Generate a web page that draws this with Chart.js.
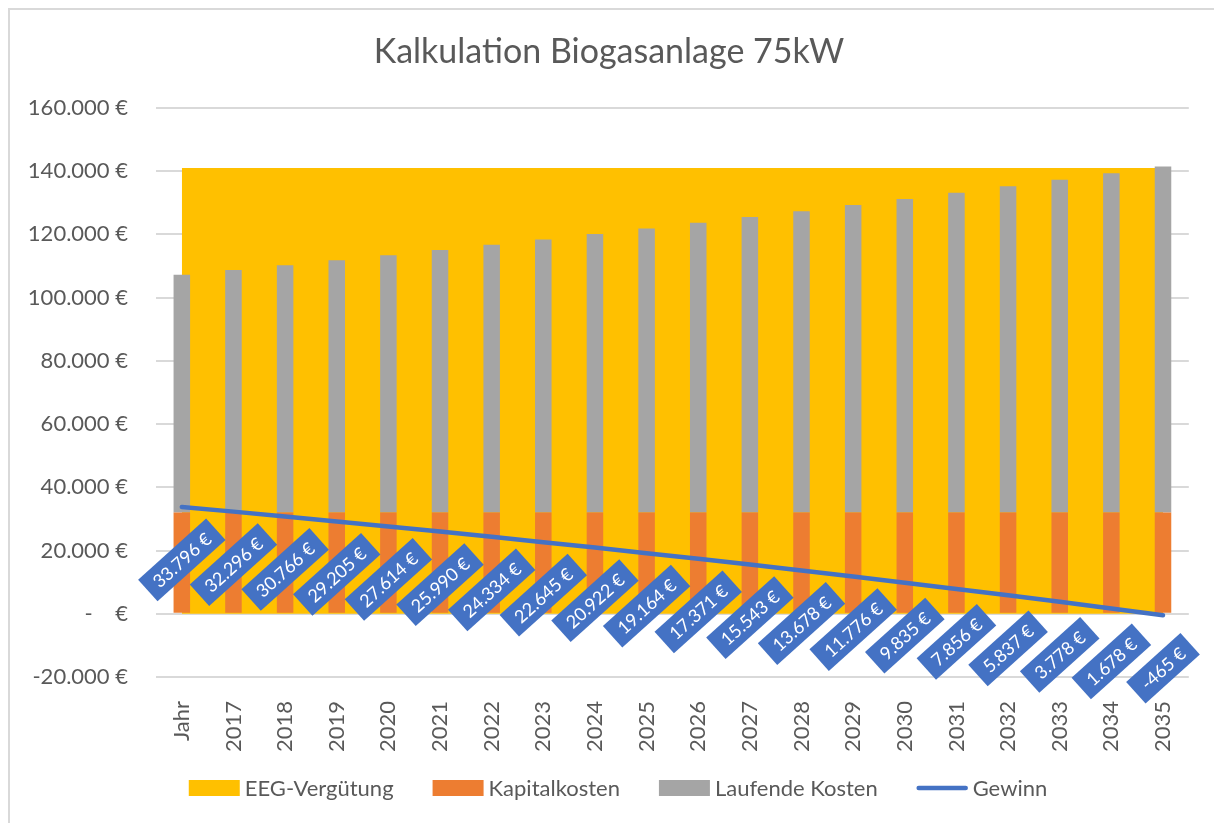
<!DOCTYPE html>
<html lang="de">
<head>
<meta charset="utf-8">
<title>Kalkulation Biogasanlage 75kW</title>
<script src="https://cdn.jsdelivr.net/npm/chart.js@4.4.1/dist/chart.umd.min.js"></script>
<style>
  html, body { margin: 0; padding: 0; background: #fff; }
  #chart { display: block; }
</style>
</head>
<body>
<canvas id="chart" width="1214" height="823"></canvas>
<script>
const years = ['Jahr', '2017', '2018', '2019', '2020', '2021', '2022', '2023', '2024', '2025',
  '2026', '2027', '2028', '2029', '2030', '2031', '2032', '2033', '2034', '2035'];

const eegVerguetung = [141000, 141000, 141000, 141000, 141000, 141000, 141000, 141000, 141000, 141000,
  141000, 141000, 141000, 141000, 141000, 141000, 141000, 141000, 141000, 141000];

const kapitalkosten = [32000, 32000, 32000, 32000, 32000, 32000, 32000, 32000, 32000, 32000,
  32000, 32000, 32000, 32000, 32000, 32000, 32000, 32000, 32000, 32000];

const laufendeKosten = [75204, 76704, 78234, 79795, 81386, 83010, 84666, 86355, 88078, 89836,
  91629, 93457, 95322, 97224, 99165, 101144, 103163, 105222, 107322, 109465];

const gewinn = [33796, 32296, 30766, 29205, 27614, 25990, 24334, 22645, 20922, 19164,
  17371, 15543, 13678, 11776, 9835, 7856, 5837, 3778, 1678, -465];

const yMin = -20000;
const yMax = 160000;
const yStep = 20000;

const FONT = 'Lato, "Open Sans", sans-serif';
const TEXT = '#595959';
const GRID = '#d9d9d9';

function euro(v) {
  if (v === 0) return '-    €';
  const s = String(Math.round(v)).replace(/\B(?=(\d{3})+(?!\d))/g, '.');
  return s + ' €';
}

// light frame along the top and left edge
const framePlugin = {
  id: 'frame',
  beforeDraw(chart) {
    const ctx = chart.ctx;
    ctx.save();
    ctx.fillStyle = '#fff';
    ctx.fillRect(0, 0, chart.width, chart.height);
    ctx.strokeStyle = GRID;
    ctx.lineWidth = 2;
    ctx.beginPath();
    ctx.moveTo(9, chart.height);
    ctx.lineTo(9, 9);
    ctx.lineTo(chart.width, 9);
    ctx.stroke();
    ctx.restore();
  }
};

// rotated value boxes under the Gewinn line
const gewinnLabels = {
  id: 'gewinnLabels',
  afterDatasetsDraw(chart) {
    const idx = chart.data.datasets.findIndex(d => d.label === 'Gewinn');
    const meta = chart.getDatasetMeta(idx);
    const ctx = chart.ctx;
    ctx.save();
    ctx.font = '18px ' + FONT;
    ctx.textAlign = 'center';
    ctx.textBaseline = 'middle';
    meta.data.forEach((pt, i) => {
      const text = euro(chart.data.datasets[idx].data[i]);
      const w = ctx.measureText(text).width + 20;
      const h = 29;
      ctx.save();
      ctx.translate(pt.x, pt.y + 53);
      ctx.rotate(-42 * Math.PI / 180);
      ctx.fillStyle = '#4472C4';
      ctx.fillRect(-w / 2, -h / 2, w, h);
      ctx.fillStyle = '#fff';
      ctx.fillText(text, 0, 1);
      ctx.restore();
    });
    ctx.restore();
  }
};

// legend row under the axis: swatch boxes for areas/bars, a short stroke for the line
const bottomLegend = {
  id: 'bottomLegend',
  afterDraw(chart) {
    const ctx = chart.ctx;
    const sw = 51, sh = 16, gapText = 5, gapItem = 39;
    const cx = 618, cy = 788;
    ctx.save();
    ctx.font = '22px ' + FONT;
    ctx.textBaseline = 'middle';
    ctx.textAlign = 'left';
    const items = chart.data.datasets.map(ds => ({ ds, tw: ctx.measureText(ds.label).width }));
    const total = items.reduce((s, it) => s + sw + gapText + it.tw, 0) + gapItem * (items.length - 1);
    let x = cx - total / 2;
    items.forEach(({ ds, tw }) => {
      if (ds.type === 'line' && !ds.fill) {
        ctx.strokeStyle = ds.borderColor;
        ctx.lineWidth = ds.borderWidth;
        ctx.lineCap = 'round';
        ctx.beginPath();
        ctx.moveTo(x + 2, cy);
        ctx.lineTo(x + sw - 2, cy);
        ctx.stroke();
      } else {
        ctx.fillStyle = ds.backgroundColor;
        ctx.fillRect(x, cy - sh / 2, sw, sh);
      }
      ctx.fillStyle = TEXT;
      ctx.fillText(ds.label, x + sw + gapText, cy + 1);
      x += sw + gapText + tw + gapItem;
    });
    ctx.restore();
  }
};

new Chart(document.getElementById('chart'), {
  data: {
    labels: years,
    datasets: [
      {
        type: 'line',
        label: 'EEG-Vergütung',
        data: eegVerguetung,
        stack: 'eeg',
        order: 3,
        fill: 'origin',
        backgroundColor: '#FFC000',
        borderColor: '#FFC000',
        borderWidth: 0,
        pointRadius: 0,
        tension: 0
      },
      {
        type: 'bar',
        label: 'Kapitalkosten',
        data: kapitalkosten,
        stack: 'kosten',
        order: 2,
        backgroundColor: '#ED7D31',
        barPercentage: 0.32,
        categoryPercentage: 1
      },
      {
        type: 'bar',
        label: 'Laufende Kosten',
        data: laufendeKosten,
        stack: 'kosten',
        order: 2,
        backgroundColor: '#A5A5A5',
        barPercentage: 0.32,
        categoryPercentage: 1
      },
      {
        type: 'line',
        label: 'Gewinn',
        data: gewinn,
        stack: 'gewinn',
        order: 1,
        fill: false,
        borderColor: '#4472C4',
        backgroundColor: '#4472C4',
        borderWidth: 4.5,
        borderCapStyle: 'round',
        pointRadius: 0,
        tension: 0
      }
    ]
  },
  options: {
    responsive: false,
    animation: false,
    layout: { padding: { left: 28, right: 24, top: 0, bottom: 0 } },
    plugins: {
      title: {
        display: true,
        text: 'Kalkulation Biogasanlage 75kW',
        color: TEXT,
        font: { family: FONT, size: 34, weight: 'normal' },
        padding: { top: 32, bottom: 35 }
      },
      legend: { display: false },
      tooltip: { enabled: false }
    },
    scales: {
      x: {
        stacked: true,
        grid: { display: false, drawTicks: false },
        border: { display: false },
        ticks: {
          color: TEXT,
          font: { family: FONT, size: 22 },
          minRotation: 90,
          maxRotation: 90,
          padding: 24,
          autoSkip: false
        },
        // room for the rotated year labels plus the legend row below
        afterFit(scale) { scale.height = 146; }
      },
      y: {
        stacked: true,
        min: yMin,
        max: yMax,
        grid: { color: GRID, lineWidth: 2, drawTicks: false },
        border: { display: false },
        ticks: {
          stepSize: yStep,
          color: TEXT,
          font: { family: FONT, size: 22 },
          padding: 28,
          callback: v => euro(v)
        },
        afterFit(scale) { scale.width = 128; }
      }
    }
  },
  plugins: [framePlugin, gewinnLabels, bottomLegend]
});
</script>
</body>
</html>
